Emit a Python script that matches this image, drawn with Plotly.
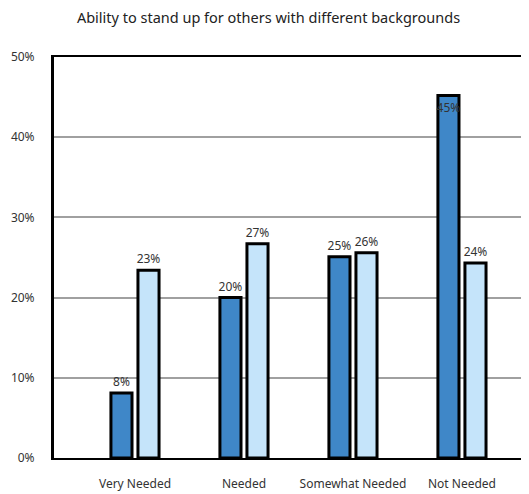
import plotly.graph_objects as go

categories = ["Very Needed", "Needed", "Somewhat Needed", "Not Needed"]
series_a = [0.081, 0.200, 0.251, 0.452]
series_b = [0.234, 0.267, 0.256, 0.243]
label_pos_a = ["outside", "outside", "outside", "inside"]
label_pos_b = ["outside", "outside", "outside", "outside"]
y_ticks = [0, 0.1, 0.2, 0.3, 0.4, 0.5]

xs = list(range(len(categories)))
FONT = "Noto Sans"

# page body has an 8px default margin, so the figure is offset by 8px
fig = go.Figure()
fig.add_trace(go.Bar(
    x=xs, y=series_a, name="A",
    marker=dict(color="#3F87C8", line=dict(color="black", width=3)),
    text=[f"{v:.0%}" for v in series_a], textposition=label_pos_a,
    insidetextanchor="end", textangle=0,
    textfont=dict(family=FONT, size=12, color="#333333"),
    cliponaxis=False,
))
fig.add_trace(go.Bar(
    x=xs, y=series_b, name="B",
    marker=dict(color="#C5E4FA", line=dict(color="black", width=3)),
    text=[f"{v:.0%}" for v in series_b], textposition=label_pos_b,
    textangle=0,
    textfont=dict(family=FONT, size=12, color="#333333"),
    cliponaxis=False,
))

fig.update_layout(
    width=521, height=486,
    barmode="group", bargap=0.504, bargroupgap=0.22,
    showlegend=False,
    plot_bgcolor="white", paper_bgcolor="white",
    margin=dict(l=46, r=0, t=49, b=36, autoexpand=False),
    font=dict(family=FONT, size=12, color="#333333"),
    uniformtext=dict(minsize=12, mode="show"),
    title=dict(text="Ability to stand up for others with different backgrounds",
               x=0.5, xanchor="center", y=1 - 10 / 486, yanchor="middle",
               font=dict(family=FONT, size=14.5, color="#222222")),
)
fig.update_xaxes(
    range=[-0.743, 3.615], tickvals=xs, ticktext=categories,
    showline=True, linecolor="black", linewidth=2, mirror=True,
    showgrid=False, ticks="", ticklabelstandoff=14,
    tickfont=dict(family=FONT, size=12, color="#333333"),
)
fig.update_yaxes(
    range=[0, 0.5], tickvals=y_ticks, tickformat=".0%",
    showline=True, linecolor="black", linewidth=3,
    showgrid=True, gridcolor="#A0A0A0", gridwidth=2,
    zeroline=False, ticks="", ticklabelstandoff=14,
    tickfont=dict(family=FONT, size=12, color="#333333"),
)

fig.write_html("out.html")
